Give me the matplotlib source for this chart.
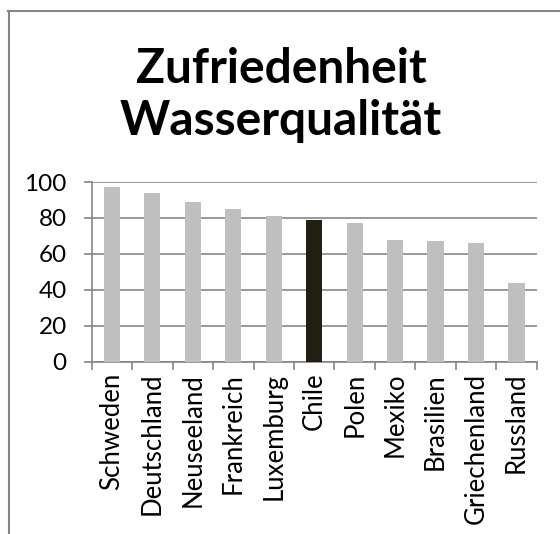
import numpy as np
import matplotlib.pyplot as plt
from matplotlib.lines import Line2D

# data
countries = ['Schweden', 'Deutschland', 'Neuseeland', 'Frankreich', 'Luxemburg',
             'Chile', 'Polen', 'Mexiko', 'Brasilien', 'Griechenland', 'Russland']
values = [97, 94, 89, 85, 81, 79, 77, 68, 67, 66, 44]
highlight = 'Chile'
yticks = [0, 20, 40, 60, 80, 100]

W, H = 560, 534
GRID = '#868686'

plt.rcParams['font.family'] = ['Lato', 'DejaVu Sans']

fig = plt.figure(figsize=(W / 100, H / 100), dpi=100)
ax = fig.add_axes([91.7 / W, 1 - 361.7 / H, 445 / W, 179.7 / H])

x = np.arange(len(countries))
colors = ['#211E12' if c == highlight else '#BFBFBF' for c in countries]
ax.bar(x, values, width=0.4, color=colors, zorder=3)

ax.set_xlim(-0.5, len(countries) - 0.5)
ax.set_ylim(0, 100)
ax.set_yticks(yticks)
ax.set_yticklabels([str(t) for t in yticks], fontsize=17.5)
ax.yaxis.grid(True, color=GRID, linewidth=1.2, zorder=0)

# category labels, ticks between categories
ax.set_xticks(x)
ax.set_xticklabels(countries, rotation=90, fontsize=18.5)
ax.tick_params(axis='x', length=0, pad=8)
ax.set_xticks(np.arange(len(countries) + 1) - 0.5, minor=True)
ax.tick_params(axis='x', which='minor', length=6, color=GRID, width=1.2)
ax.tick_params(axis='y', length=6, color=GRID, width=1.2, pad=12)

for side in ['top', 'right']:
    ax.spines[side].set_visible(False)
for side in ['left', 'bottom']:
    ax.spines[side].set_color(GRID)
    ax.spines[side].set_linewidth(1.2)

fig.text(281 / W, 1 - 95 / H, 'Zufriedenheit\nWasserqualität', ha='center', va='center',
         fontsize=34.5, fontweight='bold', linespacing=1.2)

# chart frame (only top and left edges are visible in the crop)
fig.add_artist(Line2D([8.5 / W, 8.5 / W], [0, 1 - 11 / H], transform=fig.transFigure,
                      color=GRID, linewidth=1.5))
fig.add_artist(Line2D([8 / W, 1], [1 - 11 / H, 1 - 11 / H], transform=fig.transFigure,
                      color=GRID, linewidth=1.5))

fig.savefig('out.png', dpi=100)
